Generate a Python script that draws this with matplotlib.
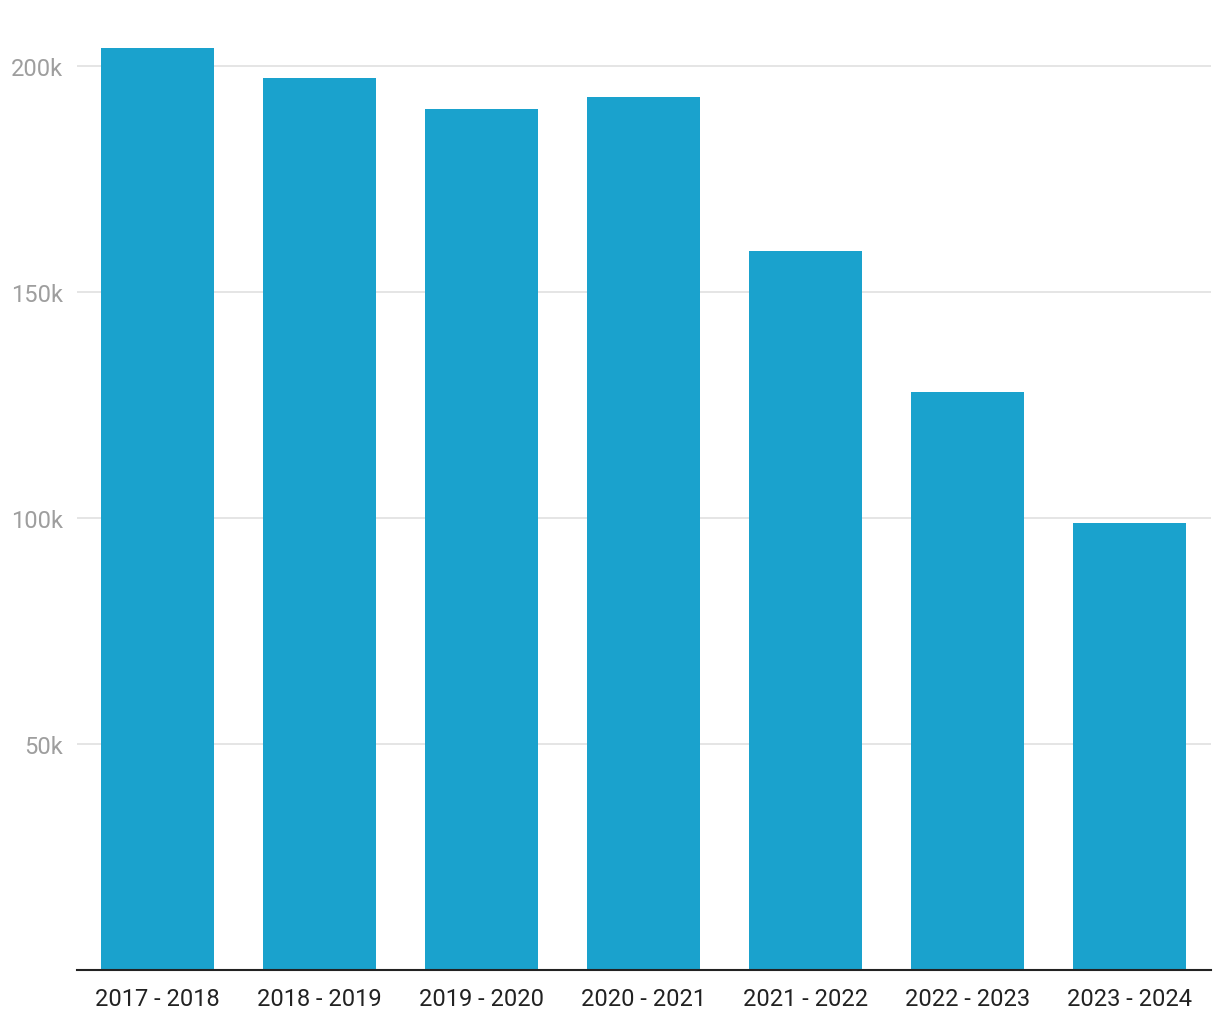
import matplotlib
matplotlib.use("Agg")
import matplotlib.pyplot as plt
from matplotlib.ticker import FuncFormatter

categories = ["2017 - 2018", "2018 - 2019", "2019 - 2020", "2020 - 2021",
              "2021 - 2022", "2022 - 2023", "2023 - 2024"]
values = [204000, 197300, 190500, 193100, 159100, 127900, 98900]
yticks = [50000, 100000, 150000, 200000]

plt.rcParams['font.family'] = ['Roboto', 'DejaVu Sans']

W, H = 1220, 1020
fig = plt.figure(figsize=(W / 100, H / 100), dpi=100)
bottom_px = 971.2
ymax = 210000
px_per = 226 / 50000
top_px = bottom_px - ymax * px_per
left_px, right_px = 76.5, 1210.5
ax = fig.add_axes([left_px / W, (H - bottom_px) / H, (right_px - left_px) / W, (bottom_px - top_px) / H])

x = range(len(categories))
ax.bar(x, values, width=0.7, color="#1aa2cd", zorder=2)
ax.set_xlim(-0.5, len(categories) - 0.5)
ax.set_ylim(0, ymax)
ax.set_xticks(list(x))
ax.set_xticklabels(categories, fontsize=17, color="#222222")
ax.set_yticks(yticks)
ax.yaxis.set_major_formatter(FuncFormatter(lambda v, p: f"{int(v/1000)}k"))
ax.tick_params(axis='y', labelsize=17, labelcolor="#9e9e9e", length=0, pad=10)
ax.tick_params(axis='x', length=0, pad=12)
ax.grid(axis='y', color="#e0e0e0", linewidth=1.2, zorder=0)
for s in ['top', 'right', 'left']:
    ax.spines[s].set_visible(False)
ax.spines['bottom'].set_color("#222222")
ax.spines['bottom'].set_linewidth(1.5)
ax.spines['bottom'].set_zorder(3)

fig.savefig("out.png", dpi=100)
